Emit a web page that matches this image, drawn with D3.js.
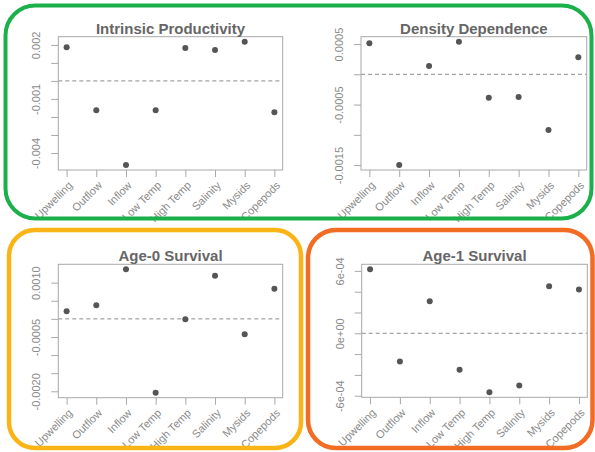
<!DOCTYPE html>
<html>
<head>
<meta charset="utf-8">
<script src="https://cdn.jsdelivr.net/npm/d3@7"></script>
<style>
  html, body { margin: 0; padding: 0; background: #fff; }
  svg { display: block; font-family: "Liberation Sans", Arial, Helvetica, sans-serif; }
</style>
</head>
<body>
<svg id="chart" width="595" height="452"></svg>
<script>
// Covariate effects on each life-history parameter
const categories = ["Upwelling", "Outflow", "Inflow", "Low Temp", "High Temp", "Salinity", "Mysids", "Copepods"];

const intrinsicProductivity = [0.00187, -0.00163, -0.00467, -0.00163, 0.00182, 0.00172, 0.00218, -0.00174];
const densityDependence     = [0.000513, -0.00150, 0.000137, 0.000540, -0.000387, -0.000376, -0.000922, 0.000281];
const age0Survival          = [0.000212, 0.000378, 0.00137, -0.00204, -0.00001, 0.00119, -0.000424, 0.000829];
const age1Survival          = [0.000616, -0.000271, 0.000309, -0.000351, -0.000568, -0.000501, 0.000453, 0.000421];

// y-axis ticks; only some of them carry a label
const ipTicks  = [-0.004, -0.003, -0.002, -0.001, 0, 0.001, 0.002];
const ipLabels = ["-0.004", "", "", "-0.001", "", "", "0.002"];
const ddTicks  = [-0.0015, -0.001, -0.0005, 0, 0.0005];
const ddLabels = ["-0.0015", "", "-0.0005", "", "0.0005"];
const a0Ticks  = [-0.002, -0.0015, -0.001, -0.0005, 0, 0.0005, 0.001];
const a0Labels = ["-0.0020", "", "", "-0.0005", "", "", "0.0010"];
const a1Ticks  = [-0.0006, -0.0004, -0.0002, 0, 0.0002, 0.0004, 0.0006];
const a1Labels = ["-6e-04", "", "", "0e+00", "", "", "6e-04"];

const panels = [
  { title: "Intrinsic Productivity", values: intrinsicProductivity, ticks: ipTicks, labels: ipLabels,
    box: { left: 58.3, right: 282.7, top: 36.7, bottom: 170 } },
  { title: "Density Dependence", values: densityDependence, ticks: ddTicks, labels: ddLabels,
    box: { left: 361, right: 586.7, top: 36.7, bottom: 170 } },
  { title: "Age-0 Survival", values: age0Survival, ticks: a0Ticks, labels: a0Labels,
    box: { left: 58.3, right: 282.7, top: 264.3, bottom: 397.7 } },
  { title: "Age-1 Survival", values: age1Survival, ticks: a1Ticks, labels: a1Labels,
    box: { left: 361.7, right: 587.3, top: 264.3, bottom: 397.3 } }
];

// Rounded frames grouping the panels
const frames = [
  { x0: 5.5, y0: 5.5, x1: 591.5, y1: 218.5, r: 30, color: "#1cb04b", w: 4 },
  { x0: 9, y0: 230, x1: 301, y1: 448, r: 26, color: "#fbb416", w: 4.5 },
  { x0: 308, y0: 230, x1: 592.5, y1: 448, r: 28, color: "#f26d23", w: 4.5 }
];

const svg = d3.select("#chart");

// R-style axis range: data extent padded by 4%
function padded(ext) {
  const d = (ext[1] - ext[0]) * 0.04;
  return [ext[0] - d, ext[1] + d];
}

panels.forEach(p => {
  const b = p.box;
  const x = d3.scaleLinear().domain(padded([1, categories.length])).range([b.left, b.right]);
  const y = d3.scaleLinear().domain(padded(d3.extent(p.values))).range([b.bottom, b.top]);
  const g = svg.append("g");

  // zero reference line
  g.append("line")
    .attr("x1", b.left).attr("x2", b.right)
    .attr("y1", y(0)).attr("y2", y(0))
    .attr("stroke", "#8c8c8c").attr("stroke-width", 1)
    .attr("stroke-dasharray", "4,3");

  // plot frame
  g.append("rect")
    .attr("x", b.left).attr("y", b.top)
    .attr("width", b.right - b.left).attr("height", b.bottom - b.top)
    .attr("fill", "none").attr("stroke", "#a8a8a8").attr("stroke-width", 1);

  // y axis
  const labelOf = new Map(p.ticks.map((t, i) => [t, p.labels[i]]));
  const ya = g.append("g")
    .attr("transform", `translate(${b.left},0)`)
    .call(d3.axisLeft(y).tickValues(p.ticks).tickSize(7).tickFormat(d => labelOf.get(d)));
  ya.select(".domain").remove();
  ya.selectAll(".tick line").attr("stroke", "#a8a8a8");
  ya.selectAll(".tick text")
    .attr("x", null).attr("dy", null)
    .attr("text-anchor", "middle")
    .attr("transform", "translate(-18,0) rotate(-90)")
    .attr("fill", "#8a8a8a")
    .style("font-size", "11px")
    .style("font-family", "'Liberation Sans', Arial, sans-serif");

  // x axis with slanted category names
  const xa = g.append("g")
    .attr("transform", `translate(0,${b.bottom})`)
    .call(d3.axisBottom(x).tickValues(d3.range(1, categories.length + 1)).tickSize(7)
      .tickFormat(i => categories[i - 1]));
  xa.select(".domain").remove();
  xa.selectAll(".tick line").attr("stroke", "#a8a8a8");
  xa.selectAll(".tick text")
    .attr("y", null).attr("dy", null)
    .attr("text-anchor", "end")
    .attr("transform", "translate(6,16) rotate(-45)")
    .attr("fill", "#8a8a8a")
    .style("font-size", "11px")
    .style("font-family", "'Liberation Sans', Arial, sans-serif");

  // points
  g.selectAll("circle")
    .data(p.values)
    .join("circle")
    .attr("cx", (d, i) => x(i + 1))
    .attr("cy", d => y(d))
    .attr("r", 3)
    .attr("fill", "#555");

  // title
  g.append("text")
    .attr("x", (b.left + b.right) / 2)
    .attr("y", b.top - 3)
    .attr("text-anchor", "middle")
    .attr("fill", "#666")
    .style("font-size", "15px")
    .style("font-weight", "bold")
    .text(p.title);
});

svg.selectAll("rect.frame")
  .data(frames)
  .join("rect")
  .attr("class", "frame")
  .attr("x", d => d.x0).attr("y", d => d.y0)
  .attr("width", d => d.x1 - d.x0).attr("height", d => d.y1 - d.y0)
  .attr("rx", d => d.r).attr("ry", d => d.r)
  .attr("fill", "none")
  .attr("stroke", d => d.color)
  .attr("stroke-width", d => d.w);
</script>
</body>
</html>
